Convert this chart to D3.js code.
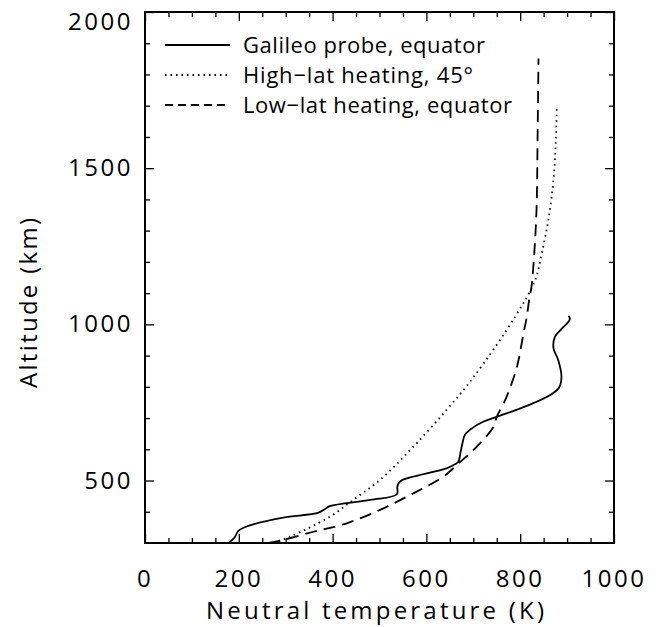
<!DOCTYPE html>
<html>
<head>
<meta charset="utf-8">
<script src="https://cdn.jsdelivr.net/npm/d3@7"></script>
<style>
  html, body { margin: 0; padding: 0; background: #fff; }
  text { font-family: "Open Sans", "DejaVu Sans", sans-serif; font-weight: 400; fill: #000; }
</style>
</head>
<body>
<svg id="chart" width="664" height="627"></svg>
<script>
// ---- Data ----
const xTicksMajor = [0, 200, 400, 600, 800, 1000];
const yTicksMajor = [500, 1000, 1500, 2000];
const xDomain = [0, 1000];
const yDomain = [300, 2000];

// Galileo probe, equator (temperature K, altitude km)
const galileoT = [179, 192, 199, 215, 231, 295, 370, 383, 394, 480, 537, 538, 541, 549, 643, 660, 668, 673, 677, 682, 697, 721, 750, 814, 864, 883, 888, 881, 871, 874, 888, 903, 906, 903];
const galileoZ = [300, 320, 339, 352, 360, 381, 397, 408, 418, 438, 456, 480, 492, 502, 539, 551, 560, 592, 620, 646, 667, 688, 704, 739, 774, 798, 832, 886, 923, 960, 985, 1008, 1019, 1027];

// High-lat heating, 45°
const highT = [274, 309, 394, 444, 501, 572, 643, 700, 789, 832, 846, 860, 871, 876, 878];
const highZ = [300, 320, 384, 438, 502, 608, 726, 830, 1024, 1142, 1227, 1334, 1462, 1590, 1702];

// Low-lat heating, equator
const lowT = [263, 295, 359, 430, 501, 572, 636, 665, 707, 743, 750, 771, 793, 807, 814, 819, 824, 830, 835, 837, 839];
const lowZ = [300, 310, 336, 363, 406, 459, 512, 550, 608, 672, 704, 768, 864, 971, 1024, 1078, 1120, 1227, 1376, 1590, 1851];

const legendLabels = ["Galileo probe, equator", "High\u2212lat heating, 45\u00b0", "Low\u2212lat heating, equator"];
const xTitle = "Neutral temperature (K)";
const yTitle = "Altitude (km)";

// ---- Layout ----
const L = 145, R = 614, T = 12, B = 543;
const svg = d3.select("#chart");
const x = d3.scaleLinear().domain(xDomain).range([L, R]);
const y = d3.scaleLinear().domain(yDomain).range([B, T]);

const xMinor = d3.range(0, 1001, 50).filter(v => v % 200 !== 0);
const yMinor = d3.range(400, 2000, 100).filter(v => v % 500 !== 0);

const majorLen = 9, minorLen = 5;

// Axes (ticks inward on all four sides)
function drawAxis(axisFn, scale, major, minor, transform) {
  const gMaj = svg.append("g").attr("transform", transform)
    .call(axisFn(scale).tickValues(major).tickSize(-majorLen).tickFormat(""));
  const gMin = svg.append("g").attr("transform", transform)
    .call(axisFn(scale).tickValues(minor).tickSize(-minorLen).tickFormat(""));
  [gMaj, gMin].forEach(g => {
    g.select(".domain").remove();
    g.selectAll("line").attr("stroke", "#000").attr("stroke-width", 1.3);
  });
}
drawAxis(d3.axisBottom, x, xTicksMajor, xMinor, `translate(0,${B})`);
drawAxis(d3.axisTop, x, xTicksMajor, xMinor, `translate(0,${T})`);
drawAxis(d3.axisLeft, y, yTicksMajor, yMinor, `translate(${L},0)`);
drawAxis(d3.axisRight, y, yTicksMajor, yMinor, `translate(${R},0)`);

// Frame
svg.append("rect").attr("x", L).attr("y", T).attr("width", R - L).attr("height", B - T)
  .attr("fill", "none").attr("stroke", "#000").attr("stroke-width", 2);

// Tick labels
svg.append("g").selectAll("text").data(xTicksMajor).join("text")
  .attr("x", d => x(d)).attr("y", 587)
  .attr("text-anchor", "middle").attr("font-size", 24)
  .attr("letter-spacing", 2.5)
  .text(d => d);

svg.append("g").selectAll("text").data(yTicksMajor).join("text")
  .attr("x", 133).attr("y", d => Math.max(y(d) + 8, 30))
  .attr("text-anchor", "end").attr("font-size", 24)
  .attr("letter-spacing", 2.5)
  .text(d => d);

// Axis titles
svg.append("text").attr("x", 375).attr("y", 619).attr("text-anchor", "middle")
  .attr("font-size", 24).attr("textLength", 338).attr("lengthAdjust", "spacing").text(xTitle);
svg.append("text").attr("transform", "translate(37,303) rotate(-90)").attr("text-anchor", "middle")
  .attr("font-size", 24).attr("textLength", 170).attr("lengthAdjust", "spacing").text(yTitle);

// Curves
svg.append("clipPath").attr("id", "plotclip").append("rect")
  .attr("x", L).attr("y", T).attr("width", R - L).attr("height", B - T);

const line = d3.line().x(d => x(d[0])).y(d => y(d[1])).curve(d3.curveCatmullRom.alpha(0.5));
const series = [
  { pts: d3.zip(galileoT, galileoZ), dash: null, width: 1.8 },
  { pts: d3.zip(highT, highZ), dash: "1.5,4", width: 1.8 },
  { pts: d3.zip(lowT, lowZ), dash: "12,7", width: 1.8 }
];
const gCurves = svg.append("g").attr("clip-path", "url(#plotclip)");
series.forEach(s => {
  gCurves.append("path").datum(s.pts).attr("d", line)
    .attr("fill", "none").attr("stroke", "#000").attr("stroke-width", s.width)
    .attr("stroke-dasharray", s.dash);
});

// Legend
const legendDash = [null, "1.5,4", "8,5"];
const legendWidths = [242, 230, 269];
const gLeg = svg.append("g");
legendLabels.forEach((lab, i) => {
  const ly = 45 + i * 30;
  gLeg.append("line").attr("x1", 165).attr("x2", 230).attr("y1", ly).attr("y2", ly)
    .attr("stroke", "#000").attr("stroke-width", 1.8).attr("stroke-dasharray", legendDash[i]);
  gLeg.append("text").attr("x", 243).attr("y", ly + 8).attr("font-size", 22)
    .attr("textLength", legendWidths[i]).attr("lengthAdjust", "spacing").text(lab);
});
</script>
</body>
</html>
